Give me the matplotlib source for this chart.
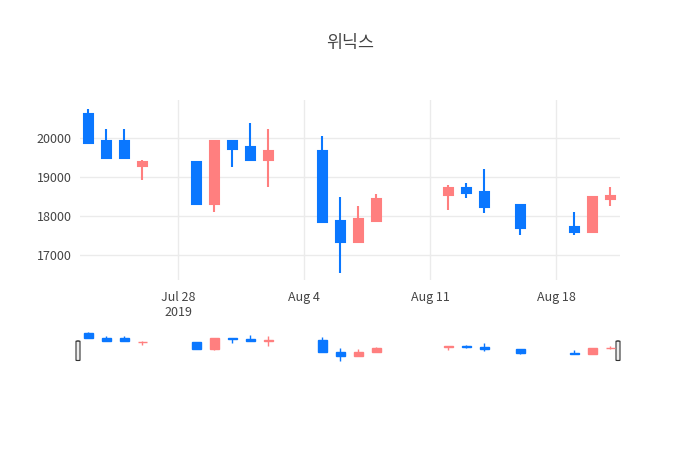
import matplotlib
matplotlib.use("Agg")
import matplotlib.pyplot as plt
import matplotlib.dates as mdates
from matplotlib.patches import FancyBboxPatch
import numpy as np
import datetime as dt

plt.rcParams['font.family'] = ['Noto Sans CJK KR', 'DejaVu Sans']

dates = ["2019-07-23","2019-07-24","2019-07-25","2019-07-26","2019-07-29","2019-07-30",
         "2019-07-31","2019-08-01","2019-08-02","2019-08-05","2019-08-06","2019-08-07",
         "2019-08-08","2019-08-12","2019-08-13","2019-08-14","2019-08-16","2019-08-19",
         "2019-08-20","2019-08-21"]
opens  = [20620,19915,19915,19290,19375,18295,19915,19770,19430,19665,17875,17335,17875,18535,18720,18620,18270,17720,17590,18430]
highs  = [20740,20240,20240,19435,19375,19940,19930,20390,20240,20050,18490,18250,18550,18790,18850,19200,18270,18100,18490,18750]
lows   = [19870,19460,19460,18910,18295,18105,19260,19420,18750,17830,16520,17335,17860,18150,18450,18065,17505,17505,17590,18250]
closes = [19880,19480,19480,19375,18295,19930,19725,19430,19675,17830,17335,17925,18425,18720,18580,18235,17695,17590,18475,18515]
yticks = [17000,18000,19000,20000]
title = "위닉스"

UP = "#ff7f7f"
DN = "#0a77ff"
x = mdates.date2num([dt.datetime.strptime(d, "%Y-%m-%d") for d in dates])
o, h, l, c = map(np.array, (opens, highs, lows, closes))
cols = [UP if cc >= oo else DN for oo, cc in zip(o, c)]

fig = plt.figure(figsize=(7, 4.5), dpi=100)
ax = fig.add_axes([80/700, 170/450, 540/700, 180/450])
sl = fig.add_axes([80/700, 88/450, 540/700, 30/450])

def candles(a, lw, w):
    a.vlines(x, l, h, colors=cols, linewidth=lw, zorder=2)
    bot = np.minimum(o, c)
    hei = np.maximum(np.abs(c - o), 10)
    a.bar(x, hei, bottom=bot, width=w, color=cols, edgecolor=cols, linewidth=lw, zorder=3)

candles(ax, 1.5, 0.5)
xmin = mdates.date2num(dt.datetime(2019, 7, 22, 13))
xmax = mdates.date2num(dt.datetime(2019, 8, 21, 13))
ax.set_xlim(xmin, xmax)
ax.set_ylim(16350, 20975)
ax.set_yticks(yticks)
ax.set_yticklabels([str(v) for v in yticks])
tk = mdates.date2num([dt.datetime(2019,7,28), dt.datetime(2019,8,4), dt.datetime(2019,8,11), dt.datetime(2019,8,18)])
ax.set_xticks(tk)
ax.set_xticklabels(["Jul 28\n2019", "Aug 4", "Aug 11", "Aug 18"])
ax.grid(color="#ebebeb", linewidth=1)
ax.set_axisbelow(True)
for s in ax.spines.values():
    s.set_visible(False)
ax.tick_params(length=0, labelsize=9, colors="#444444", pad=6)
ax.tick_params(axis='x', pad=8)

candles(sl, 1.0, 0.5)
sl.set_xlim(xmin, xmax)
sl.set_ylim(16400, 20800)
sl.axis('off')
for xp in (0.0, 1.0):
    r = FancyBboxPatch((xp - 4/540, 0.05), 4/540, 0.65, boxstyle="round,pad=0,rounding_size=0.004",
                       transform=sl.transAxes, facecolor="#eeeeee", edgecolor="#333333",
                       linewidth=0.8, clip_on=False)
    sl.add_patch(r)

fig.text(0.5, 1 - 43/450, title, ha="center", va="center", fontsize=12.5, color="#444444")
fig.savefig("out.png", dpi=100, facecolor="white")
